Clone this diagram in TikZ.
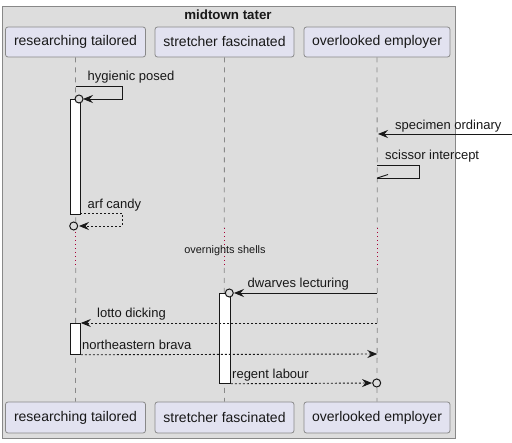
\documentclass[tikz,border=0pt]{standalone}
\usepackage{fontspec}
\setmainfont{Liberation Sans}
\usetikzlibrary{arrows.meta}
\definecolor{framebg}{HTML}{DDDDDD}
\definecolor{framebd}{HTML}{888888}
\definecolor{partbg}{HTML}{E2E2F0}
\definecolor{partbd}{HTML}{888888}
\definecolor{ink}{HTML}{181818}
\definecolor{delayred}{HTML}{A80036}
\tikzset{
  part/.style={draw=partbd, fill=partbg, rounded corners=2.5pt, line width=0.8pt, inner sep=0pt,
    font=\fontsize{14}{16}\selectfont, text=ink},
  lifeline/.style={draw=framebd, line width=0.8pt, dash pattern=on 5pt off 5pt},
  delayline/.style={draw=delayred, line width=0.8pt, dash pattern=on 1pt off 3pt},
  actbar/.style={draw=ink, fill=white, line width=0.8pt},
  msg/.style={draw=ink, line width=0.9pt, -{Stealth[length=10pt,width=8pt,inset=3.5pt]}},
  msgplain/.style={draw=ink, line width=0.9pt},
  ret/.style={msg, dash pattern=on 2pt off 2pt},
  retplain/.style={msgplain, dash pattern=on 2pt off 2pt},
  lbl/.style={anchor=west, inner sep=0pt, font=\fontsize{13}{15}\selectfont, text=ink},
  circ/.style={draw=ink, line width=1pt, circle, minimum size=8pt, inner sep=0pt, fill=framebg}
}
\begin{document}
\begin{tikzpicture}[x=1pt,y=-1pt]
\useasboundingbox (0,0) rectangle (512,443);
% frame
\node[draw=framebd, fill=framebg, line width=0.9pt, minimum width=453pt, minimum height=432pt,
      anchor=north west, inner sep=0pt] (frame) at (1.5,6) {};
\node[font=\bfseries\fontsize{13.3}{15}\selectfont, text=ink] (title) at (228,15) {midtown tater};
% participants
\node[part, minimum width=140pt, minimum height=30pt] (p1) at (75.5,42) {researching tailored};
\node[part, minimum width=139pt, minimum height=30pt] (p2) at (224.5,42) {stretcher fascinated};
\node[part, minimum width=146pt, minimum height=30pt] (p3) at (377,42) {overlooked employer};
\node[part, minimum width=140pt, minimum height=31pt] (q1) at (75.5,417.5) {researching tailored};
\node[part, minimum width=139pt, minimum height=31pt] (q2) at (224.5,417.5) {stretcher fascinated};
\node[part, minimum width=146pt, minimum height=31pt] (q3) at (377,417.5) {overlooked employer};
% lifelines with delay
\foreach \i/\x in {1/75.7,2/224.3,3/377.3}{
  \coordinate (d\i a) at (\x,228);
  \coordinate (d\i b) at (\x,268);
  \draw[lifeline] (p\i.south) -- (d\i a);
  \draw[delayline] (d\i a) -- (d\i b);
  \draw[lifeline] (d\i b) -- (q\i.north);
}
\node[inner sep=0pt, font=\fontsize{10.9}{12}\selectfont, text=ink] (delay) at (225,251) {overnights shells};
% activation bars
\node[actbar, anchor=north west, minimum width=10pt, minimum height=115pt, inner sep=0pt] (a1) at (70,99) {};
\node[actbar, anchor=north west, minimum width=11pt, minimum height=90pt, inner sep=0pt] (a2) at (219,293) {};
\node[actbar, anchor=north west, minimum width=10pt, minimum height=31pt, inner sep=0pt] (a3) at (70,323) {};
% message 1: hygienic posed
\coordinate (m1s) at (75.7,86);
\coordinate (m1r) at (122,86);
\coordinate (m1d) at (122,99);
\coordinate (m1e) at (83,99);
\draw[msg] (m1s) -- (m1r) -- (m1d) -- (m1e);
\node[circ] (c1) at (79,99) {};
\node[lbl] (l1) at (87.5,77) {hygienic posed};
% specimen ordinary
\coordinate (m2s) at (512,134);
\coordinate (m2e) at (378,134);
\draw[msg] (m2s) -- (m2e);
\node[lbl] (l2) at (395,125.7) {specimen ordinary};
% scissor intercept
\coordinate (m3s) at (377.3,165);
\coordinate (m3r) at (419,165);
\coordinate (m3d) at (419,178);
\coordinate (m3e) at (377.3,178);
\coordinate (m3b) at (388,174.5);
\draw[msgplain] (m3s) -- (m3r) -- (m3d) -- (m3e);
\draw[msgplain] (m3e) -- (m3b);
\node[lbl] (l3) at (385,155.7) {scissor intercept};
% arf candy
\coordinate (m4s) at (80,213.5);
\coordinate (m4r) at (122,213.5);
\coordinate (m4d) at (122,226);
\coordinate (m4e) at (79,226);
\draw[ret] (m4s) -- (m4r) -- (m4d) -- (m4e);
\node[circ] (c4) at (73.7,226) {};
\node[lbl] (l4) at (87.5,204.7) {arf candy};
% dwarves lecturing
\coordinate (m5s) at (377.3,293);
\coordinate (m5e) at (234,293);
\draw[msg] (m5s) -- (m5e);
\node[circ] (c5) at (229.3,293) {};
\node[lbl] (l5) at (247.5,284.3) {dwarves lecturing};
% lotto dicking
\coordinate (m6s) at (377.3,323);
\draw[ret] (m6s) -- (a3.north east);
\node[lbl] (l6) at (97,314.5) {lotto dicking};
% northeastern brava
\coordinate (m7e) at (377.3,354);
\draw[ret] (a3.south east) -- (m7e);
\node[lbl] (l7) at (82,344.5) {northeastern brava};
% regent labour
\coordinate (m8e) at (372,383);
\draw[ret] (a2.south east) -- (m8e);
\node[circ] (c8) at (376.7,383) {};
\node[lbl] (l8) at (232,375) {regent labour};
\end{tikzpicture}
\end{document}
